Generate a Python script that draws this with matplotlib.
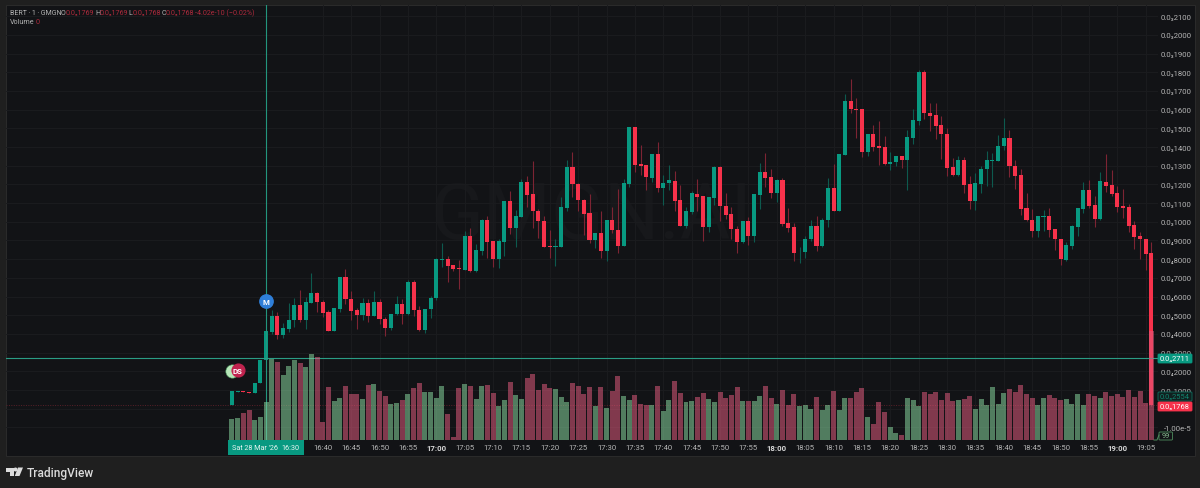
import numpy as np
import matplotlib
matplotlib.use("Agg")
import matplotlib.pyplot as plt
from matplotlib.patches import Rectangle, Polygon, Circle, FancyBboxPatch

# prices are in units of 1e-5, one candle per minute starting at 16:24
opens = [
    .20, .92, .93, .88, .82, 1.36, 2.59, 4.12, 4.95, 3.94,
    4.27, 4.73, 5.57, 4.75, 5.67, 6.21, 5.71, 5.16, 4.16, 5.34,
    7.03, 5.89, 5.28, 5.01, 5.66, 4.96, 5.71, 4.82, 4.32, 5.05,
    5.59, 5.05, 6.76, 5.30, 4.20, 5.32, 5.92, 7.98, 8.01, 7.67,
    7.50, 7.44, 9.24, 7.35, 8.46, 10.12, 8.96, 8.03, 8.92, 11.10,
    9.67, 10.26, 12.15, 11.47, 10.60, 10.05, 8.69, 8.65, 8.65, 10.76,
    12.94, 12.03, 11.19, 10.46, 9.01, 9.39, 8.42, 10.08, 9.58, 8.72,
    12.03, 15.06, 13.08, 13.04, 12.36, 13.62, 11.83, 12.08, 12.20, 11.17,
    9.79, 10.54, 11.51, 11.37, 9.74, 11.28, 12.95, 10.86, 10.40, 9.62,
    8.91, 10.03, 9.26, 11.45, 12.67, 12.38, 11.56, 12.26, 9.94, 9.71,
    8.36, 8.37, 9.07, 9.78, 8.69, 10.08, 11.80, 10.58, 13.59, 16.48,
    16.04, 16.02, 13.75, 14.70, 14.04, 13.99, 13.08, 13.19, 13.51, 13.31,
    14.50, 15.41, 18.02, 15.84, 15.72, 15.18, 14.70, 12.92, 12.52, 13.29,
    12.01, 11.13, 12.03, 12.81, 13.27, 13.26, 14.04, 14.49, 13.01, 12.51,
    10.73, 10.12, 9.53, 10.27, 10.31, 9.62, 9.08, 7.97, 8.71, 9.74,
    10.69, 11.69, 10.90, 10.14, 12.15, 11.96, 11.54, 10.85, 10.79, 9.83,
    9.24, 9.08, 8.32,
]
closes = [
    .93, .95, .88, .82, 1.38, 2.59, 4.17, 4.95, 3.94, 4.30,
    4.76, 5.57, 4.75, 5.71, 6.21, 5.69, 5.11, 4.16, 5.37, 7.03,
    5.87, 5.24, 5.01, 5.66, 4.96, 5.71, 4.78, 4.32, 5.07, 5.59,
    5.05, 6.76, 5.28, 4.20, 5.34, 5.94, 8.00, 8.00, 7.65, 7.46,
    7.46, 9.26, 7.35, 8.49, 10.12, 8.94, 8.03, 8.96, 11.10, 9.67,
    10.30, 12.15, 11.45, 10.60, 10.03, 8.67, 8.65, 8.69, 10.79, 12.94,
    12.03, 11.17, 10.42, 9.01, 9.39, 8.42, 10.08, 9.56, 8.72, 12.06,
    15.06, 13.04, 13.01, 12.38, 13.62, 11.83, 12.08, 12.22, 11.13, 9.79,
    10.58, 11.53, 11.35, 9.74, 11.31, 12.95, 10.85, 10.37, 9.60, 8.91,
    10.03, 9.26, 11.47, 12.67, 12.35, 11.56, 12.26, 9.88, 9.67, 8.33,
    8.41, 9.08, 9.78, 8.69, 10.12, 11.80, 10.58, 13.63, 16.48, 16.02,
    16.00, 13.75, 14.70, 14.01, 13.97, 13.08, 13.22, 13.52, 13.31, 14.54,
    15.45, 18.02, 15.83, 15.68, 15.15, 14.69, 12.88, 12.52, 13.29, 11.97,
    11.13, 12.06, 12.84, 13.29, 13.31, 14.06, 14.49, 12.97, 12.45, 10.69,
    10.08, 9.53, 10.31, 10.31, 9.58, 9.07, 8.00, 8.75, 9.76, 10.73,
    11.69, 10.86, 10.14, 12.17, 11.92, 11.51, 10.79, 10.76, 9.78, 9.21,
    9.07, 8.26, .1768,
]
highs = [
    .93, .95, .93, .88, 1.38, 2.59, 4.17, 5.28, 5.16, 4.59,
    5.64, 5.92, 6.35, 5.98, 7.26, 6.22, 5.82, 5.28, 5.39, 7.06,
    7.48, 6.28, 5.37, 5.92, 5.87, 6.28, 5.87, 4.92, 5.08, 6.03,
    5.87, 6.89, 6.86, 5.51, 5.36, 6.05, 8.07, 8.87, 8.19, 7.68,
    7.97, 9.53, 9.65, 8.81, 10.13, 10.33, 8.97, 9.08, 11.12, 11.64,
    10.63, 12.29, 12.47, 13.24, 10.69, 10.30, 9.58, 9.08, 11.31, 13.33,
    13.75, 12.05, 11.20, 11.49, 9.40, 10.60, 10.10, 10.78, 11.76, 12.29,
    15.08, 15.08, 14.11, 13.06, 13.64, 14.29, 12.51, 13.04, 12.71, 11.97,
    10.78, 11.67, 12.29, 11.38, 11.33, 12.97, 12.97, 11.54, 10.78, 9.76,
    10.05, 10.24, 11.49, 13.13, 13.67, 12.83, 12.28, 12.33, 10.74, 9.94,
    8.64, 9.26, 10.10, 10.30, 10.19, 12.35, 13.10, 13.65, 16.84, 17.65,
    16.63, 16.04, 14.72, 15.18, 15.38, 14.58, 13.75, 13.54, 13.53, 14.93,
    16.04, 18.13, 18.13, 16.34, 16.36, 15.68, 15.02, 13.42, 13.54, 13.45,
    12.47, 12.60, 13.01, 13.78, 13.67, 14.65, 15.56, 14.93, 13.31, 12.83,
    11.53, 10.69, 10.33, 10.63, 10.73, 9.64, 9.10, 8.94, 9.83, 10.75,
    12.15, 12.26, 11.40, 12.68, 13.63, 12.79, 11.93, 11.76, 10.96, 10.03,
    9.46, 9.10, 8.94,
]
lows = [
    .20, .92, .88, .82, .82, 1.36, 2.59, 4.00, 3.73, 3.78,
    4.09, 4.36, 4.62, 4.27, 5.64, 5.16, 4.92, 4.14, 4.14, 5.16,
    5.60, 4.76, 4.27, 4.76, 4.66, 4.95, 4.53, 3.87, 4.21, 5.01,
    4.53, 4.99, 4.98, 4.17, 4.05, 4.85, 5.82, 7.57, 6.76, 7.39,
    6.41, 7.42, 7.33, 7.33, 8.23, 8.07, 7.60, 7.55, 8.19, 9.35,
    8.64, 10.24, 10.78, 9.65, 9.14, 8.65, 8.07, 7.65, 8.63, 10.60,
    11.31, 10.60, 9.31, 8.87, 8.60, 8.07, 7.92, 9.40, 8.33, 8.70,
    11.85, 12.65, 12.51, 11.72, 12.15, 11.61, 10.90, 11.72, 10.60, 9.77,
    9.65, 10.42, 10.60, 8.99, 9.44, 10.92, 10.03, 10.15, 9.08, 8.33,
    8.85, 8.78, 8.91, 10.69, 11.85, 11.26, 11.05, 9.79, 9.44, 7.92,
    7.80, 8.05, 8.99, 8.46, 8.64, 9.71, 10.56, 10.56, 13.57, 15.84,
    14.49, 13.45, 13.54, 13.78, 13.06, 13.04, 12.78, 13.01, 12.88, 11.72,
    14.17, 15.20, 15.50, 14.88, 14.43, 13.36, 12.44, 12.47, 12.44, 11.54,
    10.69, 10.65, 11.54, 11.93, 11.85, 13.24, 13.86, 12.42, 11.76, 10.37,
    10.06, 9.21, 9.17, 9.49, 9.21, 8.49, 7.69, 7.92, 8.55, 9.26,
    10.47, 10.73, 9.74, 10.10, 11.61, 11.40, 10.54, 10.21, 9.47, 8.55,
    8.01, 7.42, .17,
]
volumes = [
    21, 21.7, 26.7, 30, 20, 22.7, 38, 81, 77.7, 65,
    73.7, 80, 77, 73, 86, 83, 18.3, 52.7, 39, 41.7,
    53.7, 46, 46, 40.7, 55, 56.3, 49.3, 43.7, 36.3, 37.3,
    40, 45.7, 52, 57, 48.3, 47.7, 41.7, 53.7, 26.3, 2.7,
    51.7, 56.3, 53.7, 41, 53.7, 55.3, 46.7, 34.3, 40.3, 57.7,
    45, 41, 62, 66, 50, 56, 52, 50.7, 43.3, 38.3,
    57, 54.3, 46, 53, 34.3, 53, 32, 49, 63.7, 44.3,
    40, 45, 36.3, 35.3, 35.3, 53.7, 28.7, 40, 59, 46.7,
    38, 39, 43.3, 47, 41, 37.7, 48.3, 41.7, 45, 53,
    39.3, 39.3, 39, 43.7, 54.3, 41.7, 36, 50.3, 35, 45.7,
    33.7, 35.3, 31, 42.7, 29.7, 34.7, 49.3, 30, 42.3, 42,
    48.3, 52, 22.7, 16, 37.7, 28, 12.7, 6.7, 5, 41.7,
    40, 33.7, 48.3, 46, 48.3, 39.7, 47, 39, 40, 40.7,
    43.7, 31, 40.7, 34.7, 52.7, 36.3, 47, 51, 48.3, 54.7,
    45.7, 42.3, 34.7, 42.3, 45, 41.7, 40, 41.3, 36, 46.3,
    34.7, 45.7, 44, 41.7, 48.3, 44.3, 45.7, 43.3, 50, 43.3,
    49.3, 36.7, 108.7,
]

# axis ticks
price_ticks = [-1, 0] + list(range(1, 22))
price_labels = ["-1.00e-5", ""] + [f"0.0₄{v}000" for v in range(1, 10)] + \
    [f"0.0₃{v * 100}" for v in range(10, 22)]
time_labels = ["16:40", "16:45", "16:50", "16:55", "17:00", "17:05", "17:10", "17:15", "17:20", "17:25",
               "17:30", "17:35", "17:40", "17:45", "17:50", "17:55", "18:00", "18:05", "18:10", "18:15",
               "18:20", "18:25", "18:30", "18:35", "18:40", "18:45", "18:50", "18:55", "19:00", "19:05"]
time_ticks = [int(t[:2]) * 60 + int(t[3:]) - (16 * 60 + 24) for t in time_labels]

crosshair_minute = 6       # 16:30
crosshair_price = 2.711
last_price = 0.1768

BG = "#121316"
OUTER = "#1f1f1f"
GRID = "#1b1c1f"
UP = "#089981"
DOWN = "#f7324b"
UP_WICK = "#0d5a4e"
DOWN_WICK = "#7d2433"
VOL_UP = "#86d49c"
VOL_DOWN = "#de5a7c"
TXT = "#b4b4b4"
FONT = ["Roboto", "DejaVu Sans"]

plt.rcParams["font.family"] = FONT
plt.rcParams["font.size"] = 5.6

fig = plt.figure(figsize=(12, 4.89), dpi=100, facecolor=OUTER)

# panel behind everything
panel = Rectangle((5.5 / 1200, 1 - 456.5 / 489), 1189 / 1200, 451 / 489, transform=fig.transFigure,
                  facecolor=BG, edgecolor="#2b2b2b", linewidth=0.7, zorder=-1)
fig.add_artist(panel)

# main axes: x 6..1158 px, y 6..441 px
ax = fig.add_axes([6 / 1200, 48 / 489, 1152 / 1200, 435 / 489], facecolor="none")
x = np.arange(len(opens))
ax.set_xlim(-39.82, 163.17)
ax.set_ylim(-1.675, 21.6)

o, h, l, c = map(np.array, (opens, highs, lows, closes))
up = c >= o
ax.set_xticks(time_ticks)
ax.set_xticklabels(time_labels)
ax.set_yticks(price_ticks)
ax.set_yticklabels(price_labels, ha="right")
ax.yaxis.tick_right()
ax.tick_params(axis="y", length=0, pad=24, colors=TXT, labelsize=5.6)
ax.tick_params(axis="x", length=0, pad=3.2, colors=TXT, labelsize=5.6)
for lab, name in zip(ax.get_xticklabels(), time_labels):
    if name.endswith(":00"):
        lab.set_fontweight("bold")
        lab.set_color("#d8d8d8")
ax.grid(True, color=GRID, linewidth=0.7)
ax.set_axisbelow(True)
for s in ax.spines.values():
    s.set_visible(False)

ax.text(0.508, 0.513, "GMGN.AI", transform=ax.transAxes, ha="center", va="center", fontsize=56,
        color="#17181b", zorder=0.5)

# candles
ax.vlines(x[up], l[up], h[up], color=UP_WICK, linewidth=0.8, zorder=2)
ax.vlines(x[~up], l[~up], h[~up], color=DOWN_WICK, linewidth=0.8, zorder=2)
ax.bar(x[up], np.maximum(c - o, 0.05)[up], bottom=o[up], width=0.72, color=UP, zorder=3)
ax.bar(x[~up], np.maximum(o - c, 0.05)[~up], bottom=c[~up], width=0.72, color=DOWN, zorder=3)

# crosshair and last price line
ax.axvline(crosshair_minute, color="#23967e", linewidth=0.8, zorder=4)
ax.axhline(crosshair_price, color="#2a9d85", linewidth=0.8, zorder=4)
ax.axhline(last_price, color="#5a2029", linewidth=0.7, linestyle=(0, (1, 1.5)), zorder=1.5)

# volume on its own scale, over the candles
vol = fig.add_axes(ax.get_position(), facecolor="none", sharex=ax)
vol.set_ylim(0, 435)
vol.axis("off")
v = np.array(volumes)
vol.bar(x[up], v[up], width=0.88, color=VOL_UP, alpha=0.55, linewidth=0)
vol.bar(x[~up], v[~up], width=0.88, color=VOL_DOWN, alpha=0.55, linewidth=0)

# M and DS event bubbles
ev = fig.add_axes(ax.get_position(), facecolor="none", sharex=ax, sharey=ax)
ev.axis("off")
ev.scatter([0], [2.0], s=92, color="#b6e6b8", edgecolor="#4f9d62", linewidth=0.4, zorder=5)
ev.scatter([1.03], [2.07], s=84, color="#c0234e", zorder=6)
ev.text(1.03, 2.07, "DS", color="white", fontsize=5.6, fontweight="bold", ha="center", va="center", zorder=7)
ev.scatter([crosshair_minute], [5.75], s=92, color="#2f7fd9", zorder=6)
ev.text(crosshair_minute, 5.75, "M", color="white", fontsize=5.6, fontweight="bold", ha="center", va="center", zorder=7)

# overlay in pixels for the header, price labels and footer
ov = fig.add_axes([0, 0, 1, 1], facecolor="none")
ov.set_xlim(0, 1200)
ov.set_ylim(489, 0)
ov.axis("off")


def label_box(y, text, face, edge, color, x0=1158, x1=1192, h=9):
    ov.add_patch(FancyBboxPatch((x0, y - h / 2), x1 - x0, h, boxstyle="round,pad=0,rounding_size=1",
                                facecolor=face, edgecolor=edge, linewidth=0.6))
    ov.text((x0 + x1) / 2, y, text, color=color, ha="center", va="center", fontsize=5.4)


label_box(359.5, "0.0₄2711", UP, UP, "white")
label_box(397.5, "0.0₅2554", "#10201f", "#0e6d5d", "#11856f")
label_box(407.5, "0.0₅1768", DOWN, DOWN, "white")
label_box(437, "99", BG, "#4e8e5e", "#86b98f", x0=1159, x1=1172.5, h=8)
ov.plot([1154, 1157, 1159], [441, 441, 436], color="#4e8e5e", linewidth=0.7)

# header
HEAD_RED = "#ad2a3c"
head = [(10, "BERT\u2009·\u20091\u2009·\u2009GMGN", TXT), (60.5, "O", TXT), (65.5, "0.0₅1769", HEAD_RED), (95, "H", TXT),
        (99.7, "0.0₅1769", HEAD_RED), (128.5, "L", TXT), (132.5, "0.0₅1768", HEAD_RED), (161.5, "C", TXT),
        (166, "0.0₅1768", HEAD_RED), (195, "-4.02e-10 (−0.02%)", HEAD_RED)]
for hx, ht, hc in head:
    ov.text(hx, 13.5, ht, color=hc, va="center", fontsize=5.1)
ov.text(10, 23, "Volume", color=TXT, va="center", fontsize=5.1)
ov.text(36, 23, "0", color=HEAD_RED, va="center", fontsize=5.1)

# crosshair time label
ov.add_patch(Rectangle((228, 441), 76, 15, facecolor=UP, edgecolor="none"))
ov.text(232.5, 449, "Sat 28 Mar '26", color="#e8f5f2", va="center", fontsize=5.2)
ov.text(281.7, 449, "16:30", color="#e8f5f2", va="center", fontsize=5.2)

# TradingView footer
LOGO = "#dcdcdc"
ov.add_patch(Polygon([(6, 468.5), (13.5, 468.5), (13.5, 477), (9.8, 477), (9.8, 472.5), (6, 472.5)], facecolor=LOGO))
ov.add_patch(Circle((15.5, 470.5), 2, facecolor=LOGO))
ov.add_patch(Polygon([(18, 468.5), (23, 468.5), (19.5, 477), (14.8, 477)], facecolor=LOGO))
ov.text(26.5, 473, "TradingView", color=LOGO, va="center", fontsize=8.6, fontweight="medium")

fig.savefig("out.png", dpi=100, facecolor=OUTER)
